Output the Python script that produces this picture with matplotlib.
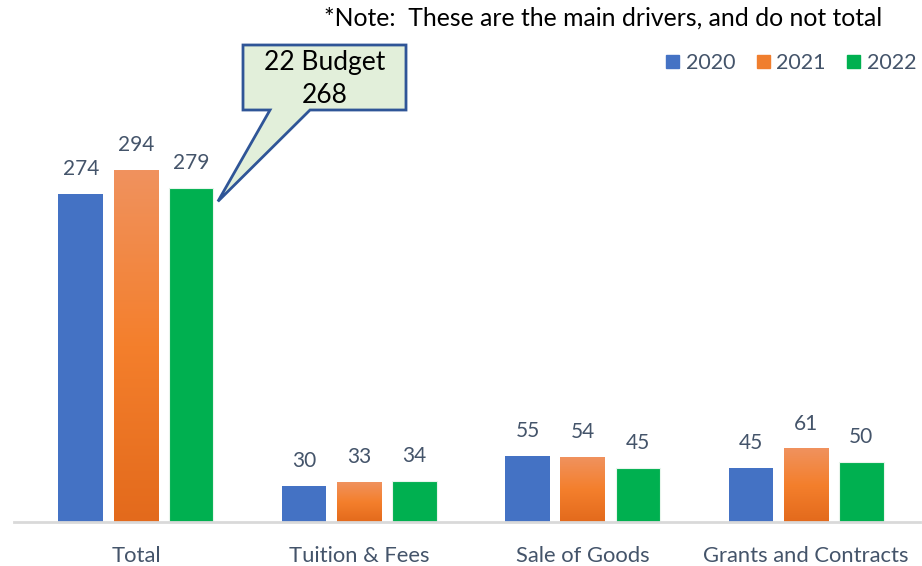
import numpy as np
import matplotlib
matplotlib.use('Agg')
import matplotlib.pyplot as plt
from matplotlib.patches import Polygon, Patch
from matplotlib.colors import LinearSegmentedColormap

plt.rcParams['font.family'] = ['Lato', 'DejaVu Sans']

categories = ['Total', 'Tuition & Fees', 'Sale of Goods', 'Grants and Contracts']
years = ['2020', '2021', '2022']
v2020 = [274, 30, 55, 45]
v2021 = [294, 33, 54, 61]
v2022 = [279, 34, 45, 50]
budget_label = '22 Budget\n268'
note = '*Note:  These are the main drivers, and do not total'

blue = '#4472C4'
green = '#00B050'
txt = '#44546A'
orange_cmap = LinearSegmentedColormap.from_list('og', ['#E36A1C', '#F47F2C', '#F0925E'])

W, H = 922, 566
fig = plt.figure(figsize=(W / 100, H / 100), dpi=100)
ax = fig.add_axes([14 / W, (H - 522) / H, 906 / W, 492 / H])

x = np.arange(len(categories))
bw = 0.2
step = 0.247
series = [v2020, v2021, v2022]
bars_all = []
for i, vals in enumerate(series):
    pos = x + (i - 1) * step
    if i == 1:
        bars = ax.bar(pos, vals, bw, color='none', edgecolor='none', zorder=2)
        grad = np.linspace(0, 1, 256).reshape(-1, 1)
        for b in bars:
            x0, y0, w, h = b.get_x(), b.get_y(), b.get_width(), b.get_height()
            ax.imshow(grad, cmap=orange_cmap, origin='lower', aspect='auto',
                      extent=[x0, x0 + w, y0, y0 + h], zorder=2)
    else:
        col = blue if i == 0 else green
        bars = ax.bar(pos, vals, bw, color=col, edgecolor='#E8F5EC' if i == 2 else 'none',
                      linewidth=0.8, zorder=2)
    bars_all.append(bars)
    for p, v in zip(pos, vals):
        ax.annotate(str(v), (p, v), xytext=(0, 11), textcoords='offset points',
                    ha='center', va='bottom', fontsize=15, color=txt)

ax.set_xlim(-0.546, 3.51)
ax.set_ylim(0, 411)
for s in ['top', 'right', 'left']:
    ax.spines[s].set_visible(False)
ax.spines['bottom'].set_color('#D9D9D9')
ax.spines['bottom'].set_linewidth(2)
ax.set_yticks([])
ax.set_xticks(x)
ax.set_xticklabels(categories, fontsize=15.8, color=txt)
ax.tick_params(axis='x', length=0, pad=17)

# legend
handles = [Patch(color=blue), Patch(color='#F07E2E'), Patch(color=green)]
fig.legend(handles, years, loc='center right', bbox_to_anchor=(916 / W, 1 - 63 / H),
           ncol=3, frameon=False, fontsize=15.5, handlelength=0.6, handleheight=0.6,
           handletextpad=0.3, columnspacing=1.0, borderpad=0, borderaxespad=0,
           labelcolor=txt)

# note at top
fig.text(882 / W, 1 - 18 / H, note, ha='right', va='center', fontsize=17.8, color='black')

# callout pointing at the 2022 Total bar
fig.canvas.draw()
gb = bars_all[2][0]
tip_disp = ax.transData.transform((gb.get_x() + gb.get_width() + 0.02, v2022[0] * 0.96))
tip = fig.transFigure.inverted().transform(tip_disp)
bl, br, bt, bb = 243 / W, 406 / W, 1 - 45 / H, 1 - 110 / H
t1, t2 = 270 / W, 310 / W
poly = Polygon([(bl, bt), (br, bt), (br, bb), (t2, bb), tuple(tip), (t1, bb), (bl, bb)],
               closed=True, transform=fig.transFigure, facecolor='#E2EFDA',
               edgecolor='#2F5597', linewidth=2, joinstyle='miter', zorder=5)
fig.add_artist(poly)
fig.text((bl + br) / 2, (bt + bb) / 2 - 1 / H, budget_label, ha='center', va='center',
         fontsize=19, color='black', linespacing=1.4, zorder=6)

fig.savefig('out.png', dpi=100)
